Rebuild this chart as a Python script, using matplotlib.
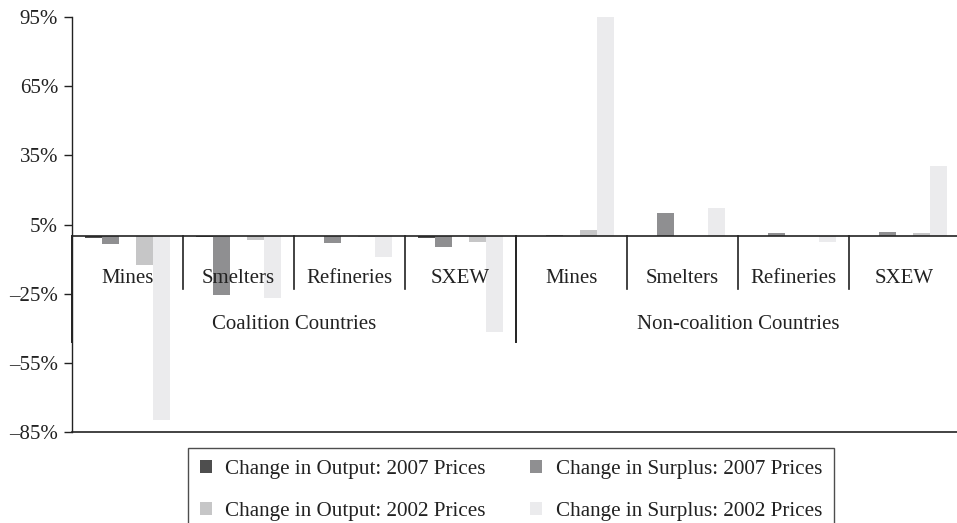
import matplotlib
matplotlib.use("Agg")
import matplotlib.pyplot as plt
import numpy as np

plt.rcParams['font.family'] = ['Liberation Serif', 'DejaVu Serif']

categories = ["Mines", "Smelters", "Refineries", "SXEW",
              "Mines", "Smelters", "Refineries", "SXEW"]
groups = ["Coalition Countries", "Non-coalition Countries"]

output_2007 = [-1.0, -0.3, -0.2, -0.8, 0.1, 0.1, 0.1, 0.1]
surplus_2007 = [-3.3, -25.7, -3.0, -4.9, 0.3, 10.1, 1.5, 1.8]
output_2002 = [-12.7, -1.8, -0.4, -2.7, 2.5, 0.1, 0.1, 1.5]
surplus_2002 = [-80.0, -27.0, -9.2, -41.6, 95.5, 12.2, -2.7, 30.2]

series_names = ["Change in Output: 2007 Prices", "Change in Surplus: 2007 Prices",
                "Change in Output: 2002 Prices", "Change in Surplus: 2002 Prices"]
series_values = [output_2007, surplus_2007, output_2002, surplus_2002]
colors = ["#4e4e4e", "#8f8f91", "#c6c6c7", "#ebebed"]
slots = [-2, -1, 1, 2]

yticks = [-85, -55, -25, 5, 35, 65, 95]
ytick_labels = ["\u201385%", "\u201355%", "\u201325%", "5%", "35%", "65%", "95%"]

fig = plt.figure(figsize=(9.57, 5.23), dpi=100)
ax = fig.add_axes([72/957, 91/523, 885/957, 415/523])

x = np.arange(len(categories))
bw = 0.153
handles = []
for vals, name, c, s in zip(series_values, series_names, colors, slots):
    h = ax.bar(x + s*bw, vals, width=bw, color=c, label=name, zorder=2)
    handles.append(h)

ax.set_xlim(-0.5, -0.5 + 885/111)
ax.set_ylim(-85, 95)
ax.set_yticks(yticks)
ax.set_yticklabels(ytick_labels, fontsize=15, color="#222222")
ax.set_xticks([])
ax.tick_params(axis='y', direction='out', length=6, width=1, color="#222222", pad=4)

for sp in ['top', 'right']:
    ax.spines[sp].set_visible(False)
ax.spines['left'].set_color("#222222")
ax.spines['bottom'].set_color("#222222")
ax.spines['left'].set_linewidth(1.0)
ax.spines['bottom'].set_linewidth(1.2)

ax.axhline(0, color="#222222", lw=1.2, zorder=3)
for xs in [0.5, 1.5, 2.5, 4.5, 5.5, 6.5]:
    ax.plot([xs, xs], [0, -22.8], color="#222222", lw=1.2, zorder=3, clip_on=False)
for xs in [-0.5, 3.5, 7.5]:
    ax.plot([xs, xs], [0, -45.8], color="#222222", lw=1.4, zorder=3, clip_on=False)

for xi, cat in zip(x, categories):
    ax.text(xi, -18.4, cat, ha='center', va='center', fontsize=15, color="#222222", zorder=4)
ax.text(1.5, -38.4, groups[0], ha='center', va='center', fontsize=15, color="#222222", zorder=4)
ax.text(5.5, -38.4, groups[1], ha='center', va='center', fontsize=15, color="#222222", zorder=4)

# row-major ordering for a 2-column legend
order = [0, 2, 1, 3]
leg = fig.legend(handles=[handles[i] for i in order], loc='upper center',
                 bbox_to_anchor=(511/957, 1 - 448/523), borderaxespad=0,
                 ncol=2, fontsize=15.2, frameon=True, fancybox=False, edgecolor="#222222",
                 handlelength=0.57, handleheight=0.57, handletextpad=0.65,
                 columnspacing=2.1, labelspacing=1.09, borderpad=0.55)
leg.get_frame().set_linewidth(1.0)
for t in leg.get_texts():
    t.set_color("#222222")

fig.savefig("out.png", dpi=100)
